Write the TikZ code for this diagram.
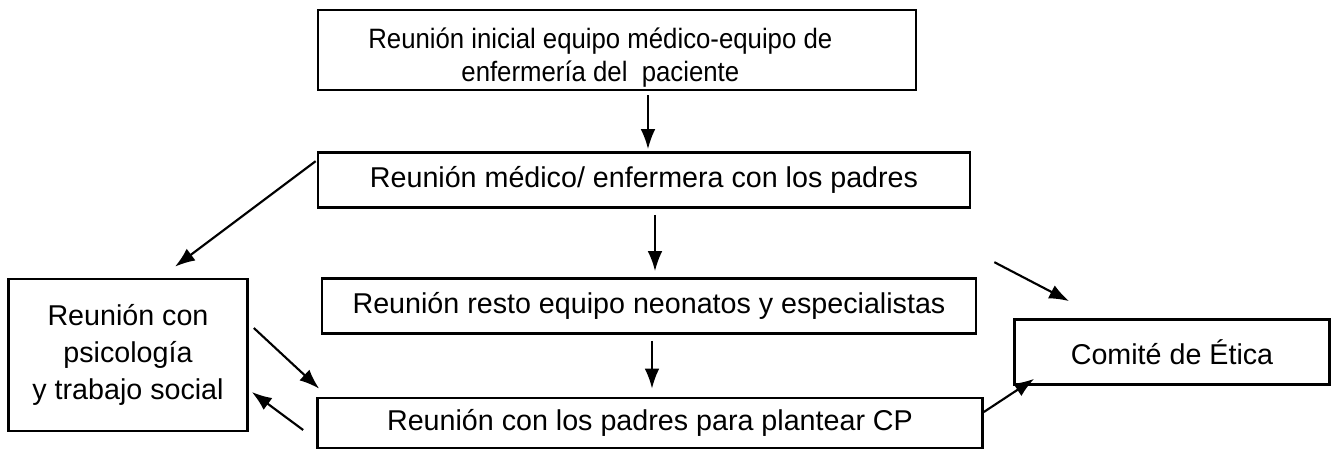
\documentclass[tikz,border=0pt]{standalone}
\usepackage{fontspec}
\setmainfont{Liberation Sans}
\usetikzlibrary{arrows.meta}
\tikzstyle{box}=[draw,line width=2pt,align=center,inner sep=0pt,font=\fontsize{21.5}{26}\selectfont]
\tikzstyle{small}=[font=\fontsize{21}{25}\selectfont\addfontfeature{FakeStretch=0.92}]
\tikzstyle{plain}=[]
\tikzstyle{link}=[draw,line width=1.6pt,-{Latex[length=15pt,width=11pt]}]
\begin{document}
\begin{tikzpicture}[x=0.75pt,y=-0.75pt]
    \useasboundingbox (0,0) rectangle (1335,453);
    % First the boxes
    \foreach \pos/\w/\h/\st/\name/\txt in {{(617,50)/598/80/small/ini/{\rule{0pt}{27pt}Reunión inicial equipo médico-equipo de\hspace*{25pt}\\enfermería del\ \ paciente\hspace*{25pt}}},
        {(644,180)/652/55/plain/padres/{Reunión médico/ enfermera con los padres}},
        {(649,306)/654/55/plain/resto/{Reunión resto equipo neonatos y especialistas}},
        {(650,423)/665/50/plain/cp/{Reunión con los padres para plantear CP}},
        {(128,355)/239/152/plain/psico/{Reunión con\\[2pt]psicología\\[2pt]y trabajo social}},
        {(1172,352)/315/65/plain/etica/{Comité de Ética}}}
        \node[box,\st,minimum width=\w*0.75pt,minimum height=\h*0.75pt] (\name) at \pos {\txt};

    % Then the arrows between them
    \path[link] ([shift={(31,4)}]ini.south) -- ([shift={(4,-2)}]padres.north);
    \path[link] ([shift={(11,6)}]padres.south) -- ([shift={(6,-6)}]resto.north);
    \path[link] ([shift={(3,6)}]resto.south) -- ([shift={(2,-8)}]cp.north);
    \path[link] ([shift={(-1,10)}]padres.north west) -- ([shift={(47,-11)}]psico.north);
    \path[link] ([shift={(5,-27)}]psico.east) -- ([shift={(3,-8)}]cp.north west);
    \path[link] ([shift={(-13,7)}]cp.west) -- ([shift={(3,37)}]psico.east);
    \path[link] ([shift={(17,-15)}]resto.north east) -- ([shift={(56,-17)}]etica.north west);
    \path[link] ([shift={(0,-11)}]cp.east) -- ([shift={(21,-7)}]etica.south west);
\end{tikzpicture}
\end{document}
